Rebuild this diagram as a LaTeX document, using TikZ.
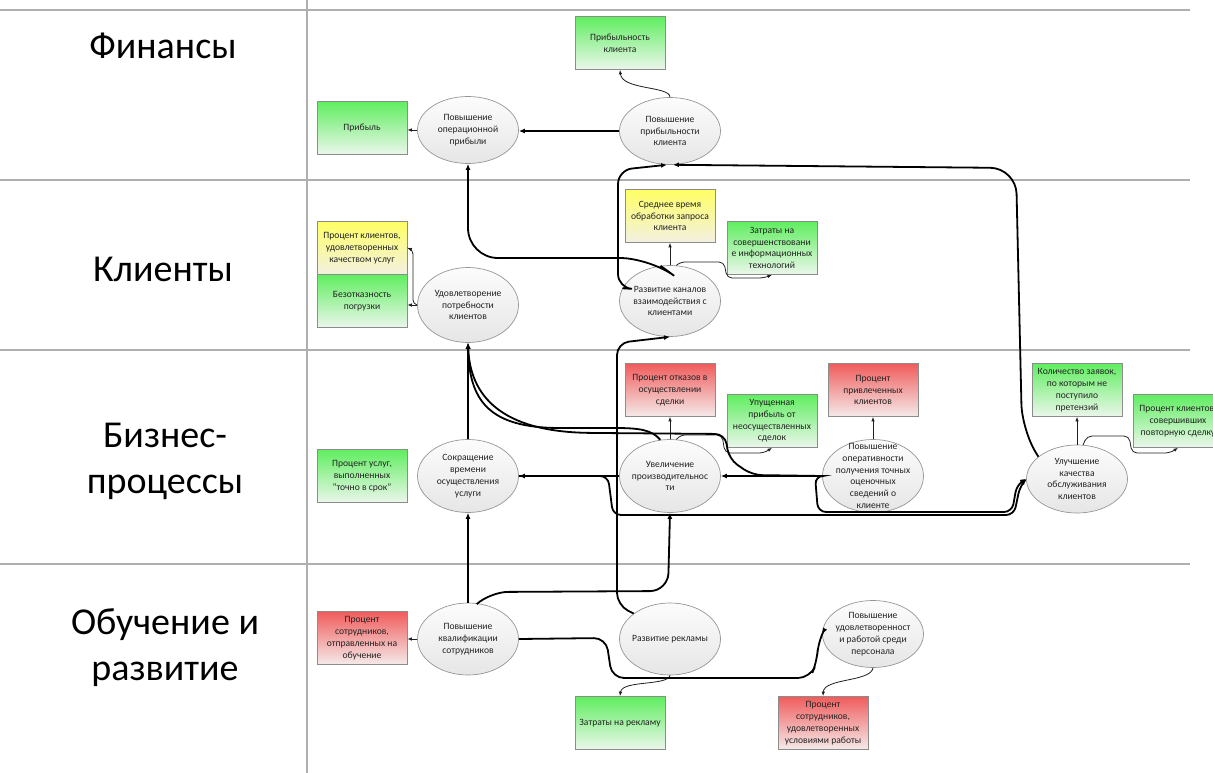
\documentclass[tikz,border=0pt]{standalone}
\usepackage{fontspec}
\setmainfont{Carlito}
\usetikzlibrary{shapes.geometric,arrows.meta,calc}

\definecolor{laneGray}{RGB}{175,175,175}
\definecolor{boxEdge}{RGB}{140,140,140}
\definecolor{ellEdge}{RGB}{150,150,150}
\definecolor{ellTop}{RGB}{252,252,252}
\definecolor{ellBot}{RGB}{230,230,230}
\definecolor{txtGray}{RGB}{35,35,35}
\definecolor{indGray}{RGB}{30,30,30}
\definecolor{gTop}{RGB}{96,238,96}
\definecolor{gBot}{RGB}{236,246,236}
\definecolor{rTop}{RGB}{240,92,92}
\definecolor{rBot}{RGB}{245,234,234}
\definecolor{yTop}{RGB}{255,255,100}
\definecolor{yBot}{RGB}{242,240,226}

\tikzset{
  lane/.style={draw=laneGray, line width=1.2pt},
  lanelabel/.style={font=\fontsize{38}{46}\selectfont, align=center, text=black, inner sep=0pt},
  kpi/.style={rectangle, draw=boxEdge, line width=0.7pt, minimum width=90, minimum height=53,
    inner sep=1pt, align=center, font=\fontsize{9.6}{11.8}\selectfont, text=txtGray},
  kgreen/.style={kpi, top color=gTop, bottom color=gBot},
  kred/.style={kpi, top color=rTop, bottom color=rBot},
  kyellow/.style={kpi, top color=yTop, bottom color=yBot},
  goal/.style={ellipse, draw=ellEdge, line width=0.7pt, top color=ellTop, bottom color=ellBot,
    minimum width=101, minimum height=72, inner sep=0pt},
  gtxt/.style={align=center, font=\fontsize{9.6}{11.8}\selectfont, text=txtGray, inner sep=0pt},
  link/.style={draw=black, line width=1.8pt, -{Latex[length=6pt,width=5pt]}},
  ind/.style={draw=indGray, line width=0.8pt, -{Latex[length=4.5pt,width=3.5pt]}},
}

\begin{document}
\begin{tikzpicture}[x=1pt, y=-1pt]
\useasboundingbox (0,0) rectangle (1213,773);
\clip (0,0) rectangle (1213,773);

% perspective lanes
\draw[lane] (0,10) -- (1190,10);
\draw[lane] (0,180) -- (1190,180);
\draw[lane] (0,350) -- (1190,350);
\draw[lane] (0,564) -- (1190,564);
\draw[lane] (307,0) -- (307,773);

\node[lanelabel] (lbFin) at (163,46) {Финансы};
\node[lanelabel] (lbCli) at (163,269) {Клиенты};
\node[lanelabel] (lbBiz) at (165,461) {Бизнес-\\процессы};
\node[lanelabel] (lbLrn) at (165,648) {Обучение и\\развитие};

% finance
\node[kgreen] (kpiProfit) at (362,128) {Прибыль};
\node[kgreen] (kpiCliProf) at (620,43) {Прибыльность\\клиента};
\node[goal, minimum height=67, label={[gtxt]center:{Повышение\\операционной\\прибыли}}] (opProfit) at (468,130) {};
\node[goal, minimum height=67, label={[gtxt]center:{Повышение\\прибыльности\\клиента}}] (cliProf) at (670,131) {};

% customers
\node[kyellow] (kpiSat) at (362,248) {Процент клиентов,\\удовлетворенных\\качеством услуг};
\node[kgreen] (kpiLoad) at (362,301) {Безотказность\\погрузки};
\node[goal, minimum height=75, label={[gtxt]center:{Удовлетворение\\потребности\\клиентов}}] (satisfy) at (468,305) {};
\node[kyellow] (kpiTime) at (670,216) {Среднее время\\обработки запроса\\клиента};
\node[kgreen] (kpiIT) at (772,248) {Затраты на\\совершенствовани\\е информационных\\технологий};
\node[goal, minimum height=71, label={[gtxt]center:{Развитие каналов\\взаимодействия с\\клиентами}}] (channels) at (670,301) {};

% internal processes
\node[kgreen] (kpiOnTime) at (362,476) {Процент услуг,\\выполненных\\"точно в срок"};
\node[goal, minimum height=73, label={[gtxt]center:{Сокращение\\времени\\осуществления\\услуги}}] (shorten) at (468,476) {};
\node[kred] (kpiRefuse) at (670,390) {Процент отказов в\\осуществлении\\сделки};
\node[goal, minimum height=73, label={[gtxt]center:{Увеличение\\производительнос\\ти}}] (productivity) at (670,476) {};
\node[kgreen] (kpiLost) at (772,421) {Упущенная\\прибыль от\\неосуществленных\\сделок};
\node[kred] (kpiAttract) at (873,390) {Процент\\привлеченных\\клиентов};
\node[goal, minimum height=73, label={[gtxt]center:{Повышение\\оперативности\\получения точных\\оценочных\\сведений о\\клиенте}}] (estimate) at (873,476) {};
\node[kgreen] (kpiClaims) at (1077,390) {Количество заявок,\\по которым не\\поступило\\претензий};
\node[kgreen] (kpiRepeat) at (1178,421) {Процент клиентов,\\совершивших\\повторную сделку};
\node[goal, minimum height=68, label={[gtxt]center:{Улучшение\\качества\\обслуживания\\клиентов}}] (quality) at (1077,479) {};

% learning and growth
\node[kred] (kpiTrain) at (362,638) {Процент\\сотрудников,\\отправленных на\\обучение};
\node[goal, label={[gtxt]center:{Повышение\\квалификации\\сотрудников}}] (skills) at (468,639) {};
\node[goal, label={[gtxt]center:{Развитие рекламы}}] (ads) at (670,639) {};
\node[kgreen] (kpiAds) at (620,723) {Затраты на рекламу};
\node[goal, minimum height=67, label={[gtxt]center:{Повышение\\удовлетворенност\\и работой среди\\персонала}}] (staffSat) at (873,634) {};
\node[kred] (kpiStaff) at (823,723) {Процент\\сотрудников,\\удовлетворенных\\условиями работы};

% objective -> indicator
\draw[ind] (opProfit.west) -- (opProfit.west -| kpiProfit.east);
\draw[ind] (cliProf.north) .. controls (670,86) and (622,90) .. (kpiCliProf.south);
\draw[ind] (satisfy.west) -- (satisfy.west -| kpiLoad.east);
\draw[ind, rounded corners=4] (satisfy.west) -- (413,304) -- (413,250) -- (kpiSat.east);
\draw[ind] (channels.north) -- (kpiTime.south);
\draw[ind, rounded corners=5] (channels.80) -- (680,262) -- (724,262) -- (727,278) -- (764,278) -- (kpiIT.south);
\draw[ind] (productivity.north) -- (kpiRefuse.south);
\draw[ind, rounded corners=5] (productivity.80) -- (680,435) -- (722,435) -- (725,453) -- (764,453) -- (kpiLost.south);
\draw[ind] (estimate.north) -- (kpiAttract.south);
\draw[ind] (quality.north) -- (kpiClaims.south);
\draw[ind, rounded corners=5] (quality.80) -- (1087,436) -- (1129,436) -- (1132,453) -- (1170,453) -- (kpiRepeat.south);
\draw[ind] (skills.west) -- (skills.west -| kpiTrain.east);
\draw[ind] (ads.south) .. controls (668,686) and (622,680) .. (kpiAds.north);
\draw[ind] (staffSat.south) .. controls (871,682) and (824,678) .. (kpiStaff.north);

% cause -> effect links
\draw[link] (cliProf.west) -- (cliProf.west -| opProfit.east);
\draw[link, rounded corners=30] (channels.105) -- (650,258) -- (468,258) -- (opProfit.south);
\draw[link, rounded corners=14] (channels.165) -- (618,288) -- (618,170) -- (cliProf.265);
\draw[link, rounded corners=26] (quality.150) -- (1022,430) -- (1016,168) -- (cliProf.275);
\draw[link] (shorten.north) -- (satisfy.south);
\draw[link] (productivity.105) .. controls (652,430) and (640,428) .. (615,428)
  -- (560,428) .. controls (488,428) and (469,400) .. (satisfy.south);
\draw[link, rounded corners=10] (estimate.west) -- (752,475) -- (729,459) -- (725,434)
  -- (600,433) [sharp corners] .. controls (500,432) and (470,395) .. (satisfy.south);
\draw[link] (productivity.west) -- (productivity.west -| shorten.east);
\draw[link] (estimate.west) -- (estimate.west -| productivity.east);
\draw[link, rounded corners=8] (estimate.west) -- (815,476) -- (818,512) -- (1012,512) -- (1017,484) -- (quality.west);
\draw[link, rounded corners=8] (shorten.east) -- (608,476) -- (613,515) -- (1014,515) -- (1020,486) -- (quality.west);
\draw[link] (skills.north) -- (shorten.south);
\draw[link, rounded corners=18] (skills.75) -- (490,592) -- (668,591) -- (productivity.south);
\draw[link, rounded corners=12] (skills.east) -- (606,638) -- (612,678) -- (810,678) -- (817,662) -- (818,642) -- (staffSat.west);
\draw[link, rounded corners=12] (ads.145) -- (617,605) -- (617,343) -- (channels.south);
\end{tikzpicture}
\end{document}
